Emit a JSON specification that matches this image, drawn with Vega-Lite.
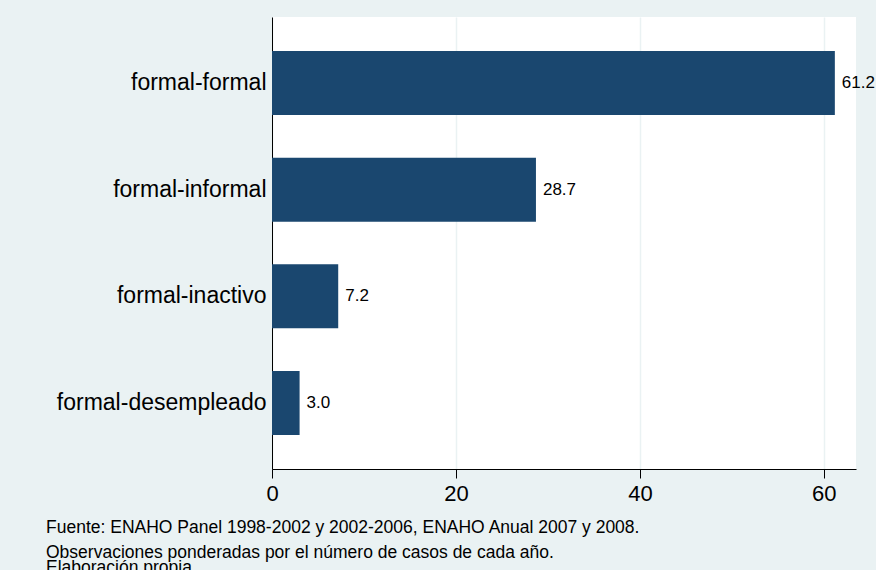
{
  "$schema": "https://vega.github.io/schema/vega-lite/v6.json",
  "autosize": {"type": "none"},
  "padding": {"left": 272, "top": 17, "right": 20, "bottom": 101},
  "width": 584,
  "height": 452,
  "background": "#eaf2f3",
  "data": {
    "values": [
      {"transicion": "formal-formal", "pct": 61.2},
      {"transicion": "formal-informal", "pct": 28.7},
      {"transicion": "formal-inactivo", "pct": 7.2},
      {"transicion": "formal-desempleado", "pct": 3.0}
    ]
  },
  "title": {
    "text": "Fuente: ENAHO Panel 1998-2002 y 2002-2006, ENAHO Anual 2007 y 2008.",
    "subtitle": ["Observaciones ponderadas por el número de casos de cada año.", "Elaboración propia"],
    "orient": "bottom",
    "anchor": "start",
    "frame": "group",
    "dx": -226,
    "offset": 15,
    "font": "Liberation Sans",
    "fontSize": 17.5,
    "fontWeight": "normal",
    "color": "#000000",
    "subtitleFont": "Liberation Sans",
    "subtitleFontSize": 17.5,
    "subtitleColor": "#000000",
    "subtitlePadding": 7,
    "subtitleLineHeight": 15
  },
  "config": {
    "view": {"fill": "#ffffff", "stroke": null},
    "font": "Liberation Sans",
    "axis": {
      "domainColor": "#000000",
      "domainWidth": 1,
      "tickColor": "#000000",
      "labelColor": "#000000",
      "labelFont": "Liberation Sans"
    }
  },
  "encoding": {
    "y": {
      "field": "transicion",
      "type": "nominal",
      "sort": null,
      "title": null,
      "scale": {"paddingInner": 0.4, "paddingOuter": 0.32},
      "axis": {"ticks": false, "labelFontSize": 23, "labelPadding": 6, "labelLimit": 0, "grid": false}
    },
    "x": {
      "field": "pct",
      "type": "quantitative",
      "title": null,
      "scale": {"domain": [0, 63.5], "nice": false},
      "axis": {
        "values": [0, 20, 40, 60],
        "labelFontSize": 22,
        "tickSize": 9,
        "labelPadding": 5,
        "grid": true,
        "gridColor": "#eaf2f3",
        "gridWidth": 1.5,
        "labelFlush": false
      }
    }
  },
  "layer": [
    {"mark": {"type": "bar", "color": "#1a476f"}},
    {
      "mark": {"type": "text", "align": "left", "dx": 7, "fontSize": 17, "color": "#000000"},
      "encoding": {"text": {"field": "pct", "type": "quantitative", "format": ".1f"}}
    }
  ]
}
